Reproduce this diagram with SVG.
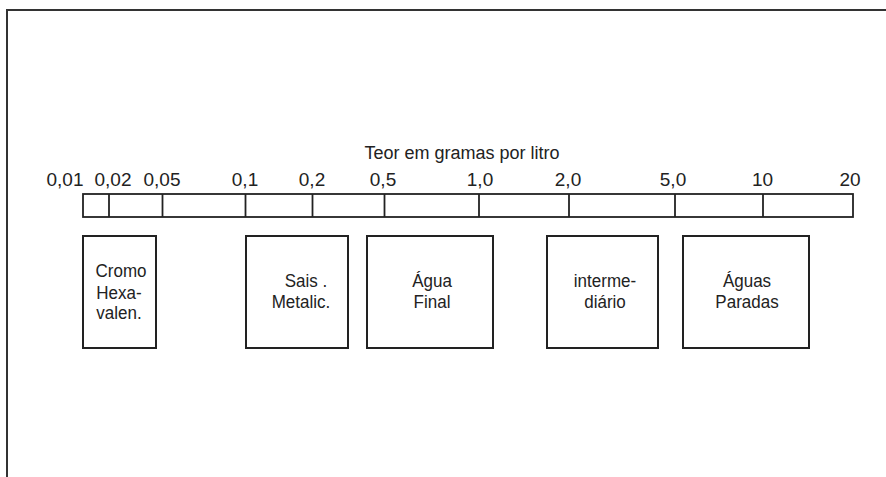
<svg xmlns="http://www.w3.org/2000/svg" width="886" height="477" viewBox="0 0 886 477">
<style>
.frame{fill:none;stroke:#333;stroke-width:2}
.bar{fill:none;stroke:#222;stroke-width:1.8}
.tick{stroke:#222;stroke-width:1.8}
.box{fill:#fff;stroke:#222;stroke-width:2}
text{font-family:"Liberation Sans",Arial,sans-serif;fill:#222;text-anchor:middle}
.num{font-size:19px}
.title{font-size:18px}
.lbl{font-size:18.5px}
</style>
<rect width="886" height="477" fill="#fff"/>
<path class="frame" d="M7,477 V10 H886"/>
<g id="scale">
<text class="title" x="462" y="159">Teor em gramas por litro</text>
<rect class="bar" x="83" y="194" width="770" height="23"/>
<g class="tick-lines">
<line class="tick" x1="109" y1="194" x2="109" y2="217"/>
<line class="tick" x1="162.5" y1="194" x2="162.5" y2="217"/>
<line class="tick" x1="245.5" y1="194" x2="245.5" y2="217"/>
<line class="tick" x1="312.5" y1="194" x2="312.5" y2="217"/>
<line class="tick" x1="384.5" y1="194" x2="384.5" y2="217"/>
<line class="tick" x1="479" y1="194" x2="479" y2="217"/>
<line class="tick" x1="569" y1="194" x2="569" y2="217"/>
<line class="tick" x1="675" y1="194" x2="675" y2="217"/>
<line class="tick" x1="763" y1="194" x2="763" y2="217"/>
</g>
<text class="num" x="65" y="186">0,01</text>
<text class="num" x="113" y="186">0,02</text>
<text class="num" x="162" y="186">0,05</text>
<text class="num" x="245" y="186">0,1</text>
<text class="num" x="312" y="186">0,2</text>
<text class="num" x="383" y="186">0,5</text>
<text class="num" x="480" y="186">1,0</text>
<text class="num" x="568" y="186">2,0</text>
<text class="num" x="673" y="186">5,0</text>
<text class="num" x="762.5" y="186">10</text>
<text class="num" x="850" y="186">20</text>
</g>
<g id="cromo">
<rect class="box" x="83" y="236" width="73" height="112"/>
<text class="lbl" transform="translate(121,277) scale(0.92,1)">Cromo</text>
<text class="lbl" transform="translate(119,299) scale(0.92,1)">Hexa-</text>
<text class="lbl" transform="translate(119,319) scale(0.92,1)">valen.</text>
</g>
<g id="sais">
<rect class="box" x="246" y="236" width="102" height="112"/>
<text class="lbl" transform="translate(306,287) scale(0.92,1)">Sais  .</text>
<text class="lbl" transform="translate(301,308) scale(0.92,1)">Metalic.</text>
</g>
<g id="agua-final">
<rect class="box" x="367" y="236" width="126" height="112"/>
<text class="lbl" transform="translate(432,287) scale(0.92,1)">Água</text>
<text class="lbl" transform="translate(432,308) scale(0.92,1)">Final</text>
</g>
<g id="intermediario">
<rect class="box" x="547" y="236" width="111" height="112"/>
<text class="lbl" transform="translate(605,287) scale(0.92,1)">interme-</text>
<text class="lbl" transform="translate(605,308) scale(0.92,1)">diário</text>
</g>
<g id="aguas-paradas">
<rect class="box" x="683" y="236" width="126" height="112"/>
<text class="lbl" transform="translate(747,287) scale(0.92,1)">Águas</text>
<text class="lbl" transform="translate(747,308) scale(0.92,1)">Paradas</text>
</g>
<g id="connectors"></g>
</svg>
